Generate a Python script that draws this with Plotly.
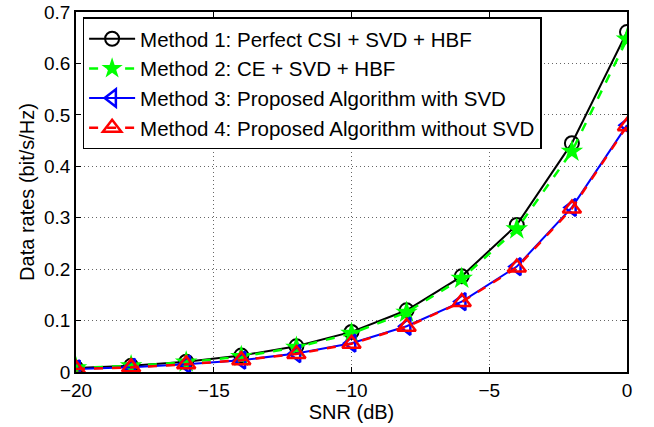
import plotly.graph_objects as go

snr = [-20, -18, -16, -14, -12, -10, -8, -6, -4, -2, 0]
m1 = [0.008, 0.012, 0.020, 0.032, 0.050, 0.078, 0.120, 0.186, 0.286, 0.445, 0.661]
m2 = [0.008, 0.012, 0.019, 0.030, 0.048, 0.075, 0.116, 0.182, 0.278, 0.429, 0.647]
m3 = [0.006, 0.009, 0.015, 0.023, 0.036, 0.056, 0.089, 0.137, 0.205, 0.320, 0.480]
m4 = [0.006, 0.009, 0.015, 0.023, 0.035, 0.055, 0.088, 0.136, 0.203, 0.318, 0.478]
names = ["Method 1: Perfect CSI + SVD + HBF",
         "Method 2: CE + SVD + HBF",
         "Method 3: Proposed Algorithm with SVD",
         "Method 4: Proposed Algorithm without SVD"]
yticks = [0, 0.1, 0.2, 0.3, 0.4, 0.5, 0.6, 0.7]
xticks = [-20, -15, -10, -5, 0]

FONT = "Liberation Sans, Arial, Helvetica"

fig = go.Figure()
fig.add_trace(go.Scatter(x=snr, y=m1, name=names[0], mode="lines+markers",
                         line=dict(color="black", width=2),
                         marker=dict(symbol="circle-open", size=14, color="black", line=dict(width=2))))
fig.add_trace(go.Scatter(x=snr, y=m2, name=names[1], mode="lines+markers",
                         line=dict(color="#00ff00", width=2.5, dash="dash"),
                         marker=dict(symbol="star", size=17, color="#00ff00", line=dict(width=0))))
fig.add_trace(go.Scatter(x=snr, y=m3, name=names[2], mode="lines+markers",
                         line=dict(color="blue", width=2),
                         marker=dict(symbol="triangle-left-open", size=15, color="blue", line=dict(width=2.5))))
fig.add_trace(go.Scatter(x=snr, y=m4, name=names[3], mode="lines+markers",
                         line=dict(color="red", width=2.5, dash="dash"),
                         marker=dict(symbol="triangle-up-open", size=16, color="red", line=dict(width=2.5))))

axis_common = dict(showline=True, linecolor="black", linewidth=1.5, mirror="ticks",
                   ticks="inside", ticklen=5, tickcolor="black", automargin=False,
                   showgrid=True, gridcolor="#666666", griddash="1px,3px", gridwidth=1,
                   zeroline=False, tickfont=dict(family=FONT, size=19, color="black"))
fig.update_xaxes(range=[-20, 0], tickvals=xticks, ticktext=["\u221220", "\u221215", "\u221210", "\u22125", "0"],
                 title=dict(text="SNR (dB)", font=dict(family=FONT, size=20, color="black"), standoff=2),
                 **axis_common)
fig.update_yaxes(range=[0, 0.7], tickvals=yticks, ticktext=["0", "0.1", "0.2", "0.3", "0.4", "0.5", "0.6", "0.7"],
                 title=dict(text="Data rates (bit/s/Hz)", font=dict(family=FONT, size=20, color="black"), standoff=4),
                 **axis_common)
fig.update_layout(width=654, height=427, paper_bgcolor="white", plot_bgcolor="white",
                  margin=dict(l=76, r=27, t=12, b=55, autoexpand=False),
                  font=dict(family=FONT, color="black"),
                  legend=dict(x=0.012, y=0.985, xanchor="left", yanchor="top",
                              bgcolor="white", bordercolor="black", borderwidth=1.5,
                              font=dict(family=FONT, size=20.5, color="black"),
                              tracegroupgap=0, itemwidth=46))
fig.write_html("out.html", config={"displayModeBar": False},
               post_script="document.body.style.margin='0';document.body.style.overflow='hidden';")
